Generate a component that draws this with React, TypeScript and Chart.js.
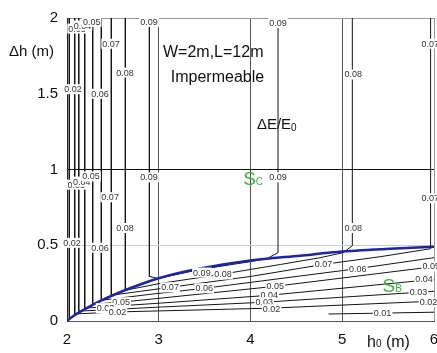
import React, { useEffect, useRef } from 'react';
import { Chart, registerables } from 'chart.js';

Chart.register(...registerables);

// ---- axes ----
const xTicks = [2, 3, 4, 5, 6];
const yTicks = [0, 0.5, 1, 1.5, 2];
const yTickLabels = ['0', '0.5', '1', '1.5', '2'];
const xTickLabels = ['2', '3', '4', '5', '6'];

// ---- boundary curve between Sc and Sb ----
const boundaryX = [2, 2.05, 2.1, 2.2, 2.36, 2.5, 2.687, 2.99, 3.45, 4.0, 4.54, 5.0, 5.52, 6.0];
const boundaryY = [0, 0.024, 0.045, 0.08, 0.131, 0.17, 0.216, 0.281, 0.346, 0.399, 0.431, 0.458, 0.477, 0.49];

// ---- contour levels of ΔE/E0 (each: list of segments, each segment list of [h0, Δh]) ----
const level01 = [
  [[2.025, 2], [2.025, 0.02]],
  [[4.85, 0.046], [6.0, 0.058]],
];
const level02 = [
  [[2.084, 2], [2.084, 0.046], [2.5, 0.059], [4.23, 0.085], [6.0, 0.131]],
];
const level03 = [
  [[2.128, 2], [2.128, 0.065], [3.02, 0.092], [4.15, 0.124], [6.0, 0.196]],
];
const level04 = [
  [[2.193, 2], [2.193, 0.085], [3.02, 0.118], [4.21, 0.17], [6.0, 0.275]],
];
const level05 = [
  [[2.28, 2], [2.28, 0.111], [2.59, 0.124], [4.27, 0.229], [6.0, 0.359]],
];
const level06 = [
  [[2.374, 2], [2.374, 0.137], [2.906, 0.176], [3.5, 0.216], [5.17, 0.346], [6.0, 0.418]],
];
const level07 = [
  [[2.483, 2], [2.483, 0.17], [2.8, 0.196], [3.12, 0.222], [4.0, 0.294], [4.79, 0.373], [5.42, 0.425], [5.963, 0.477], [5.963, 2]],
];
const level08 = [
  [[2.636, 2], [2.636, 0.203], [3.015, 0.248], [3.67, 0.307], [4.325, 0.373], [4.76, 0.418], [5.01, 0.451], [5.11, 0.497], [5.11, 2]],
];
const level09 = [
  [[2.898, 2], [2.898, 0.294], [2.99, 0.281], [3.45, 0.34], [4.0, 0.392], [4.18, 0.412], [4.3, 0.451], [4.3, 2]],
];
const contourPaths = [level01, level02, level03, level04, level05, level06, level07, level08, level09];

// ---- contour labels ----
const labelText = [
  '0.03', '0.04', '0.05', '0.07', '0.08', '0.02', '0.06', '0.09', '0.09', '0.08', '0.07',
  '0.03', '0.04', '0.05', '0.07', '0.08', '0.02', '0.06', '0.09', '0.09', '0.08', '0.07',
  '0.08', '0.09', '0.07', '0.06', '0.05', '0.03', '0.02', '0.05', '0.04', '0.03', '0.02',
  '0.07', '0.06', '0.01', '0.05', '0.04', '0.03', '0.02',
];
const labelX = [
  2.11, 2.17, 2.27, 2.48, 2.633, 2.066, 2.36, 2.895, 4.3, 5.12, 5.96,
  2.10, 2.16, 2.262, 2.47, 2.633, 2.055, 2.36, 2.895, 4.3, 5.12, 5.96,
  3.70, 3.47, 3.124, 3.496, 2.59, 2.42, 2.55, 4.27, 4.205, 4.15, 4.23,
  4.795, 5.17, 5.44, 5.97, 5.89, 5.83, 5.94,
];
const labelY = [
  1.93, 1.95, 1.974, 1.83, 1.64, 1.53, 1.5, 1.974, 1.967, 1.627, 1.83,
  0.90, 0.92, 0.954, 0.817, 0.614, 0.516, 0.484, 0.948, 0.948, 0.614, 0.81,
  0.307, 0.32, 0.222, 0.216, 0.124, 0.085, 0.06, 0.229, 0.17, 0.124, 0.078,
  0.373, 0.346, 0.052, 0.36, 0.275, 0.19, 0.124,
];

const FONT = '"Liberation Sans", Arial, sans-serif';

const overlay = {
  id: 'overlay',
  afterDatasetsDraw(chart: any) {
    const { ctx, scales } = chart;
    const xs = scales.x;
    const ys = scales.y;
    ctx.save();
    ctx.font = `9px ${FONT}`;
    ctx.textAlign = 'center';
    ctx.textBaseline = 'middle';
    for (let i = 0; i < labelText.length; i++) {
      const px = xs.getPixelForValue(labelX[i]);
      const py = ys.getPixelForValue(labelY[i]);
      const w = ctx.measureText(labelText[i]).width;
      ctx.fillStyle = '#ffffff';
      ctx.fillRect(px - w / 2 - 1, py - 5, w + 2, 10);
      ctx.fillStyle = '#333333';
      ctx.fillText(labelText[i], px, py + 0.5);
    }
    ctx.restore();
  },
  afterDraw(chart: any) {
    const { ctx, scales, chartArea } = chart;
    const xs = scales.x;
    const ys = scales.y;
    ctx.save();
    ctx.textBaseline = 'alphabetic';
    ctx.fillStyle = '#111';
    ctx.font = `16px ${FONT}`;
    ctx.textAlign = 'center';
    ctx.fillText('W=2m,L=12m', xs.getPixelForValue(3.594), ys.getPixelForValue(1.745));
    ctx.fillText('Impermeable', xs.getPixelForValue(3.64), ys.getPixelForValue(1.575));
    ctx.textAlign = 'left';
    ctx.font = `15px ${FONT}`;
    let px = xs.getPixelForValue(4.07);
    const py = ys.getPixelForValue(1.27);
    ctx.fillText('ΔE/E', px, py);
    px += ctx.measureText('ΔE/E').width;
    ctx.font = `10px ${FONT}`;
    ctx.fillText('0', px, py + 2);

    ctx.fillStyle = '#3cb43c';
    const region = (main: string, sub: string, x: number, y: number) => {
      let qx = xs.getPixelForValue(x);
      const qy = ys.getPixelForValue(y);
      ctx.font = `19px ${FONT}`;
      ctx.fillText(main, qx, qy);
      qx += ctx.measureText(main).width;
      ctx.font = `10px ${FONT}`;
      ctx.fillText(sub, qx, qy);
    };
    region('S', 'C', 3.92, 0.9);
    region('S', 'B', 5.44, 0.19);

    ctx.fillStyle = '#111';
    ctx.font = `15px ${FONT}`;
    ctx.textAlign = 'left';
    ctx.fillText('Δh (m)', chartArea.left - 58, chartArea.top + 38);
    let tx = chartArea.right - 67;
    const ty = chartArea.bottom + 26;
    ctx.font = `16px ${FONT}`;
    ctx.fillText('h', tx, ty);
    tx += ctx.measureText('h').width;
    ctx.font = `10px ${FONT}`;
    ctx.fillText('0', tx, ty);
    tx += ctx.measureText('0').width;
    ctx.font = `16px ${FONT}`;
    ctx.fillText(' (m)', tx, ty);
    ctx.restore();
  },
};

export default function App() {
  const ref = useRef<HTMLCanvasElement | null>(null);
  useEffect(() => {
    if (!ref.current) return;
    const datasets: any[] = [];
    datasets.push({
      data: boundaryX.map((x, i) => ({ x, y: boundaryY[i] })),
      borderColor: '#1c24a8',
      borderWidth: 2.5,
      pointRadius: 0,
      showLine: true,
      tension: 0.3,
    });
    contourPaths.forEach((segs) => {
      segs.forEach((seg) => {
        datasets.push({
          data: seg.map(([x, y]) => ({ x, y })),
          borderColor: '#151515',
          borderWidth: 1,
          pointRadius: 0,
          showLine: true,
          tension: 0,
        });
      });
    });
    const chart = new Chart(ref.current, {
      type: 'scatter',
      data: { datasets },
      plugins: [overlay],
      options: {
        animation: false,
        responsive: false,
        maintainAspectRatio: false,
        layout: { padding: { top: 15, right: 3, left: 0, bottom: 0 } },
        plugins: { legend: { display: false }, tooltip: { enabled: false } },
        scales: {
          x: {
            type: 'linear',
            min: 2,
            max: 6,
            afterBuildTicks: (s: any) => { s.ticks = xTicks.map((v) => ({ value: v })); },
            afterFit: (s: any) => { s.height = 32; s.paddingLeft = 0; s.paddingRight = 0; },
            ticks: {
              color: '#111',
              font: { family: FONT, size: 15 },
              padding: 10,
              callback: (v: any) => { const i = xTicks.indexOf(Number(v)); return i >= 0 ? xTickLabels[i] : ''; },
            },
            grid: {
              drawTicks: false,
              color: (c: any) => {
                const v = c.tick && c.tick.value;
                if (v === 2) return 'rgba(0,0,0,0)';
                if (v === 6) return '#999';
                return '#555';
              },
              lineWidth: 1,
            },
            border: { display: true, color: '#555' },
          },
          y: {
            type: 'linear',
            min: 0,
            max: 2,
            afterBuildTicks: (s: any) => { s.ticks = yTicks.map((v) => ({ value: v })); },
            afterFit: (s: any) => { s.width = 67; },
            ticks: {
              color: '#111',
              font: { family: FONT, size: 15 },
              padding: 9,
              callback: (v: any) => { const i = yTicks.indexOf(Number(v)); return i >= 0 ? yTickLabels[i] : ''; },
            },
            grid: {
              drawTicks: false,
              color: (c: any) => {
                const v = c.tick && c.tick.value;
                if (v === 1) return '#111';
                if (v === 0.5) return '#cccccc';
                if (v === 2) return '#999';
                return 'rgba(0,0,0,0)';
              },
              lineWidth: 1,
            },
            border: { display: true, color: '#222' },
          },
        },
      },
    });
    return () => chart.destroy();
  }, []);
  return (
    <div style={{ position: 'fixed', left: 0, top: 0, width: 437, height: 353, background: '#fff' }}>
      <canvas ref={ref} width={437} height={353} style={{ width: 437, height: 353, display: 'block' }} />
    </div>
  );
}
